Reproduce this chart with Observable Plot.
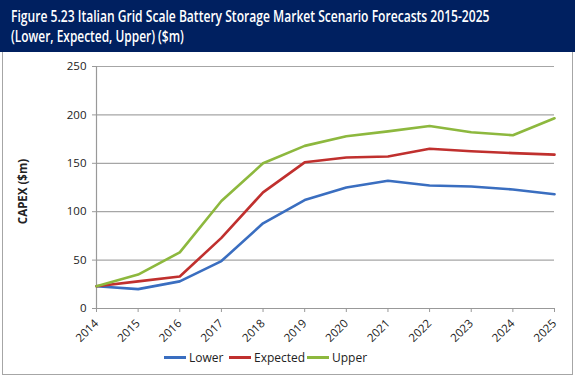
<!DOCTYPE html>
<html>
<head>
<meta charset="utf-8">
<script src="https://cdn.jsdelivr.net/npm/d3@7"></script>
<script src="https://cdn.jsdelivr.net/npm/@observablehq/plot@0.6"></script>
<style>
  html, body { margin: 0; padding: 0; background: #fff; }
  #wrap { position: relative; width: 575px; height: 376px; overflow: hidden; font-family: "Open Sans", sans-serif; }
  #title { position: absolute; left: 0; top: 0; width: 575px; height: 52px; background: #002060; }
  #box { position: absolute; left: 2px; top: 52px; width: 569px; height: 322px; border: 1px solid #a6a6a6; border-top: none; background: #fff; }
  #chart { position: absolute; left: 0; top: 0; }
  #legend { position: absolute; left: 0; top: 296px; width: 569px; height: 20px; font-size: 12px; color: #222; }
  .item { position: absolute; top: 0; display: flex; align-items: center; height: 18px; }
  .sw { width: 22px; height: 3px; margin-right: 3px; }
</style>
</head>
<body>
<div id="wrap">
  <svg id="title" width="575" height="52">
    <text id="t1" fill="#fff" font-family="Open Sans" font-weight="600" font-size="16.5">Figure 5.23 Italian Grid Scale Battery Storage Market Scenario Forecasts 2015-2025</text>
    <text id="t2" fill="#fff" font-family="Open Sans" font-weight="600" font-size="16.5">(Lower, Expected, Upper) ($m)</text>
  </svg>
  <div id="box">
    <div id="chart"></div>
    <div id="legend"></div>
  </div>
</div>
<script>
const years = [2014, 2015, 2016, 2017, 2018, 2019, 2020, 2021, 2022, 2023, 2024, 2025];
const lower    = [23, 20, 28, 49, 88, 112, 125, 132, 127, 126, 123, 118];
const expected = [23, 28, 33, 73, 120, 151, 156, 157, 165, 162.5, 160.5, 159];
const upper    = [23, 35, 58, 111, 150, 168, 178, 183, 188.5, 182, 179, 196.5];
const seriesNames = ["Lower", "Expected", "Upper"];
const seriesColors = ["#3a6ec0", "#c0302e", "#8db83e"];
const yTicks = [0, 50, 100, 150, 200, 250];

// Title: condense horizontally to the reference width
[["t1", 11, 22, 479], ["t2", 11, 42, 173]].forEach(([id, x, y, w]) => {
  const t = document.getElementById(id);
  const natural = t.getComputedTextLength();
  t.setAttribute("transform", `translate(${x},${y}) scale(${w / natural},1)`);
});

const seriesValues = [lower, expected, upper];
const data = [];
seriesNames.forEach((name, i) => {
  years.forEach((yr, j) => data.push({ series: name, year: yr, value: seriesValues[i][j] }));
});

const plot = Plot.plot({
  width: 569,
  height: 293,
  marginLeft: 93,
  marginRight: 18,
  marginTop: 14,
  marginBottom: 37,
  style: { fontFamily: "Open Sans", fontSize: "11px", color: "#222", background: "#fff", overflow: "visible" },
  x: { type: "linear", domain: [2014, 2025] },
  y: { domain: [0, 250] },
  color: { domain: seriesNames, range: seriesColors },
  marks: [
    Plot.ruleY(yTicks.filter(d => d > 0), { x1: 2014, x2: 2025, stroke: "#a6a6a6", strokeWidth: 1.2 }),
    Plot.ruleY([0], { x1: 2014, x2: 2025, stroke: "#999", strokeWidth: 1.2 }),
    Plot.ruleX([2014], { y1: 0, y2: 250, stroke: "#999", strokeWidth: 1.2 }),
    Plot.axisY({ ticks: yTicks, tickSize: 4, tickPadding: 6, stroke: "#999", label: null, fontSize: 11.5 }),
    Plot.axisX({ ticks: years, tickSize: 4, tickFormat: d => String(d), tickRotate: -45, tickPadding: 9, stroke: "#999", label: null, fontSize: 11.5 }),
    Plot.lineY(data, { x: "year", y: "value", stroke: "series", strokeWidth: 2.6 }),
    Plot.text(["CAPEX ($m)"], { frameAnchor: "left", dx: -73, dy: 4, rotate: -90, textAnchor: "middle", fontWeight: "bold", fontSize: 11.5, fill: "#222" })
  ]
});
document.getElementById("chart").appendChild(plot);

const legend = document.getElementById("legend");
const lefts = [161, 226, 304];
seriesNames.forEach((name, i) => {
  const it = document.createElement("div");
  it.className = "item";
  it.style.left = lefts[i] + "px";
  const sw = document.createElement("div");
  sw.className = "sw";
  sw.style.background = seriesColors[i];
  const tx = document.createElement("span");
  tx.textContent = name;
  it.appendChild(sw);
  it.appendChild(tx);
  legend.appendChild(it);
});
</script>
</body>
</html>
